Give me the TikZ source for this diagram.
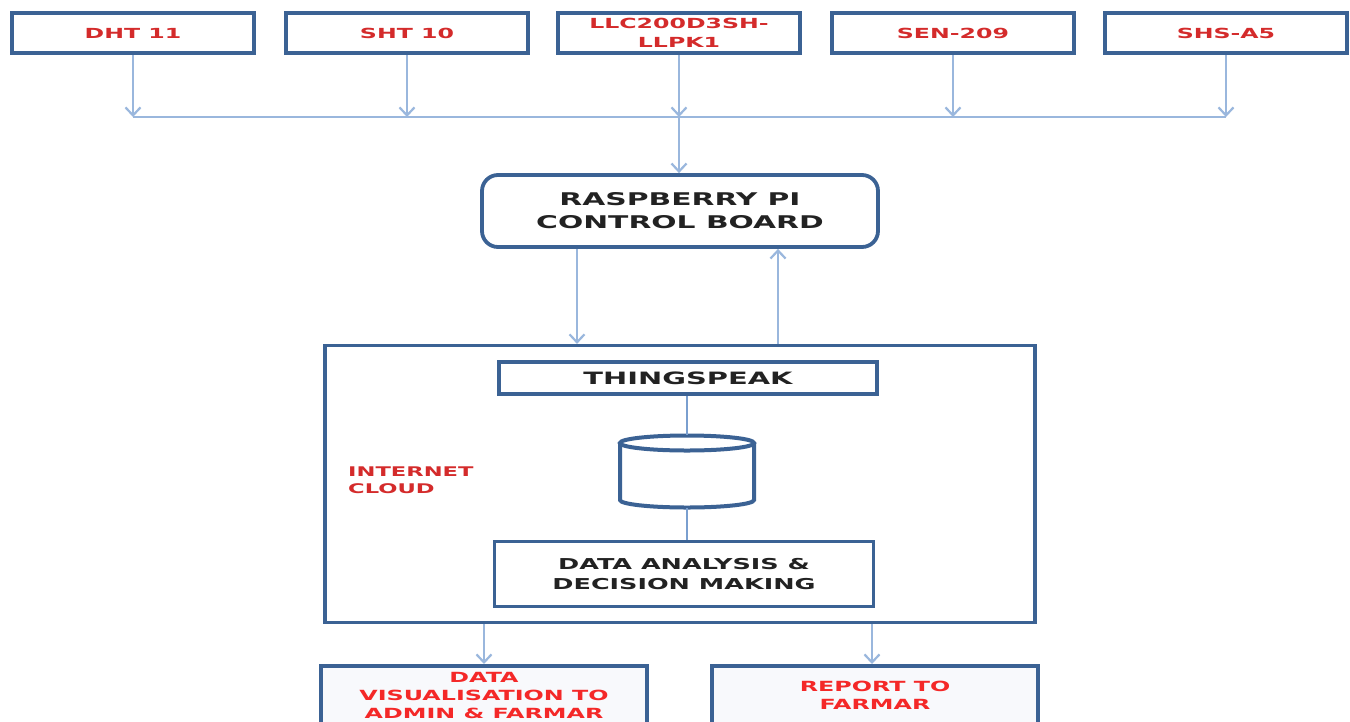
\documentclass[tikz,border=0pt]{standalone}
\usepackage{fontspec}
\setmainfont{DejaVu Sans}[FakeStretch=1.7]
\usetikzlibrary{arrows.meta,calc}
\definecolor{boxblue}{HTML}{3B6294}
\definecolor{arrblue}{HTML}{9AB7DD}
\definecolor{lineblue}{HTML}{7A9FCF}
\definecolor{redtxt}{HTML}{D42B2B}
\definecolor{brightred}{HTML}{F42828}
\definecolor{darktxt}{HTML}{222222}
\definecolor{paleblue}{HTML}{F8F9FC}
\tikzset{
  sensor/.style={draw=boxblue, line width=4pt, fill=white, minimum width=242pt, minimum height=40pt, inner sep=0pt, align=center, text=redtxt, font=\bfseries\fontsize{13.9}{19}\selectfont},
  inbox/.style={draw=boxblue, line width=3.5pt, fill=white, inner sep=0pt, align=center, text=darktxt},
  outbox/.style={draw=boxblue, line width=4pt, fill=paleblue, inner sep=0pt, align=center, text=brightred, font=\bfseries\fontsize{14}{18}\selectfont},
  arr/.style={draw=arrblue, line width=2.2pt, -{Straight Barb[length=8pt,width=15pt]}},
  plain/.style={draw=arrblue, line width=2pt},
  thin/.style={draw=lineblue, line width=1.6pt},
}
\begin{document}
\begin{tikzpicture}[x=1pt,y=-1pt]
\useasboundingbox[fill=white] (0,0) rectangle (1350,721);
% sensors
\node[sensor] (s1) at (133,33) {DHT 11};
\node[sensor] (s2) at (407,33) {SHT 10};
\node[sensor] (s3) at (679,33) {LLC200D3SH-\\LLPK1};
\node[sensor] (s4) at (953,33) {SEN-209};
\node[sensor] (s5) at (1226,33) {SHS-A5};
\coordinate (bus) at (0,117);
\draw[plain] (s1.south |- bus) -- (s5.south |- bus);
\foreach \s in {s1,s2,s3,s4,s5}{\draw[arr] (\s.south) -- (\s.south |- bus);}
% raspberry
\node[inbox, rounded corners=16pt, line width=3.8pt, minimum width=396pt, minimum height=72pt, font=\bfseries\fontsize{17.5}{23}\selectfont] (rpi) at (680,211) {RASPBERRY PI\\CONTROL BOARD};
\draw[arr] (s3.south |- bus) -- (s3.south |- rpi.north);
% cloud
\node[draw=boxblue, line width=3.2pt, minimum width=710pt, minimum height=277pt, inner sep=0pt] (cloud) at (680,484) {};
\node[anchor=north west, inner sep=0pt, align=left, text=redtxt, font=\bfseries\fontsize{13.3}{17}\selectfont] (lbl) at (348,467) {INTERNET\\CLOUD};
\draw[arr] ([xshift=-103pt]rpi.south) -- ([xshift=-103pt]rpi.south |- cloud.north);
\draw[arr] ([xshift=98pt]rpi.south |- cloud.north) -- ([xshift=98pt]rpi.south);
% thingspeak
\node[inbox, minimum width=378pt, minimum height=32pt, font=\bfseries\fontsize{17}{20}\selectfont] (ts) at (688,378) {THINGSPEAK};
% cylinder
\coordinate (dbtop) at (687,435);
\coordinate (dbbot) at (687,508);
\draw[boxblue, line width=4pt, fill=white]
  (620,443) -- (620,500) arc[start angle=180, end angle=360, x radius=67pt, y radius=7.5pt] -- (754,443);
\draw[boxblue, line width=4pt, fill=white] (687,443) ellipse[x radius=67pt, y radius=7.5pt];
% analysis
\node[inbox, minimum width=379pt, minimum height=65pt, font=\bfseries\fontsize{15}{20}\selectfont] (da) at (684,574) {DATA ANALYSIS \&\\DECISION MAKING};
\draw[thin] (ts.south -| dbtop) -- (dbtop);
\draw[thin] (dbbot) -- (da.north -| dbbot);
% outputs
\node[outbox, minimum width=326pt, minimum height=58pt] (o1) at (484,695) {DATA\\VISUALISATION TO\\ADMIN \& FARMAR};
\node[outbox, minimum width=326pt, minimum height=58pt] (o2) at (875,695) {REPORT TO\\FARMAR};
\draw[arr] (cloud.south -| 484,0) -- (o1.north);
\draw[arr] (cloud.south -| 872,0) -- (o2.north -| 872,0);
\end{tikzpicture}
\end{document}
